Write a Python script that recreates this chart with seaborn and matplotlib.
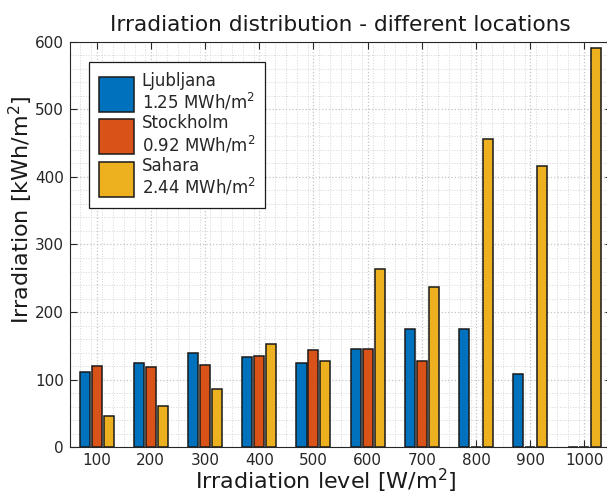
#!/usr/bin/env python

import numpy as np
import pandas as pd
import matplotlib
matplotlib.use('Agg')
import matplotlib.pyplot as plt
from matplotlib.ticker import MultipleLocator, AutoMinorLocator
import seaborn as sns

# Irradiation levels (W/m^2) and energy per level (kWh/m^2)
LEVELS = ['100', '200', '300', '400', '500', '600', '700', '800', '900', '1000']
LJUBLJANA = [111, 125, 140, 134, 124, 145, 175, 175, 108, 1]
STOCKHOLM = [120, 119, 121, 135, 144, 145, 128, 0, 0, 0]
SAHARA = [46, 61, 86, 153, 127, 263, 237, 456, 416, 590]
LOCATIONS = ['Ljubljana', 'Stockholm', 'Sahara']
TOTALS = ['1.25', '0.92', '2.44']
COLORS = ['#0072BD', '#D95319', '#EDB120']


def main():
    df = pd.DataFrame({
        'level': LEVELS * 3,
        'value': LJUBLJANA + STOCKHOLM + SAHARA,
        'location': np.repeat(LOCATIONS, len(LEVELS)),
    })

    sns.set_style('ticks')
    plt.rcParams['font.family'] = ['DejaVu Sans']
    plt.rcParams['mathtext.fontset'] = 'dejavusans'

    fig = plt.figure(figsize=(6.07, 4.95), dpi=100)
    ax = fig.add_axes([0.1145, 0.0964, 0.893, 0.8194])

    sns.barplot(data=df, x='level', y='value', hue='location',
                order=LEVELS, hue_order=LOCATIONS, palette=COLORS,
                saturation=1, width=0.66, gap=0.16, edgecolor='#1a1a1a',
                linewidth=1.1, ax=ax, zorder=3)

    ax.set_xlim(-0.5, 9.5)
    ax.set_ylim(0, 600)
    ax.yaxis.set_major_locator(MultipleLocator(100))
    ax.yaxis.set_minor_locator(AutoMinorLocator(5))
    ax.set_xticks(range(len(LEVELS)))
    ax.set_xticks(np.arange(-0.5, 9.6, 0.2), minor=True)

    ax.grid(True, which='major', color='#c4c4c4', linestyle=':', linewidth=0.9, zorder=0)
    ax.grid(True, which='minor', color='#d6d6d6', linestyle=':', linewidth=0.7, zorder=0)
    ax.set_axisbelow(True)

    for side in ['left', 'top', 'bottom', 'right']:
        ax.spines[side].set_visible(True)
        ax.spines[side].set_color('#262626')
        ax.spines[side].set_linewidth(0.8)

    ax.tick_params(which='major', direction='in', length=5, width=0.8,
                   top=True, right=True, labelsize=11, colors='#262626',
                   pad=4)
    ax.tick_params(which='minor', length=0, top=False, right=False)

    ax.set_xlabel('Irradiation level [W/m$^2$]', fontsize=16, color='#1a1a1a')
    ax.set_ylabel('Irradiation [kWh/m$^2$]', fontsize=16, color='#1a1a1a')
    ax.xaxis.set_label_coords(0.473, -0.048)
    ax.yaxis.set_label_coords(-0.064, 0.585)
    ax.set_title('Irradiation distribution - different locations',
                 fontsize=15.6, color='#1a1a1a', pad=8)

    handles, _ = ax.get_legend_handles_labels()
    labels = ['%s\n%s MWh/m$^2$' % (loc, tot) for loc, tot in zip(LOCATIONS, TOTALS)]
    leg = ax.legend(handles, labels, loc='upper left',
                    bbox_to_anchor=(0.036, 0.95), borderaxespad=0,
                    fontsize=12, handlelength=2.1, handleheight=2.84,
                    handletextpad=0.45, labelspacing=0.1, borderpad=0.6,
                    fancybox=False, framealpha=1, edgecolor='#1a1a1a')
    leg.get_frame().set_linewidth(0.9)
    for t in leg.get_texts():
        t.set_color('#262626')
        t.set_linespacing(1.1)

    fig.savefig('out.png', dpi=100)


if __name__ == '__main__':
    main()
